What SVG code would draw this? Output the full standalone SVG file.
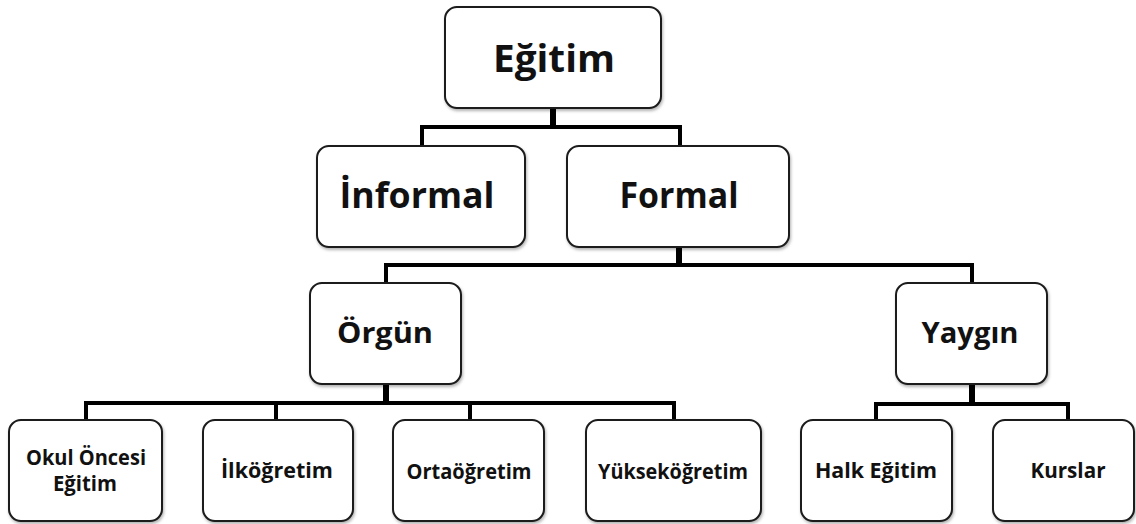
<svg xmlns="http://www.w3.org/2000/svg" width="1136" height="524" viewBox="0 0 1136 524">
  <defs>
    <filter id="shadow" x="-10%" y="-10%" width="120%" height="130%">
      <feDropShadow dx="1" dy="2" stdDeviation="1.5" flood-color="#000" flood-opacity="0.3"/>
    </filter>
    <style>
      .box { fill: #fff; stroke: #1a1a1a; stroke-width: 2; filter: url(#shadow); }
      .lbl { font-family: "Open Sans", "Liberation Sans", sans-serif; font-weight: bold; fill: #111; text-anchor: middle; }
      .l1 { font-size: 38px; }
      .l2 { font-size: 35px; }
      .l3 { font-size: 28px; }
      .l4 { font-size: 21px; }
      .wire { fill: none; stroke: #000; stroke-width: 4; stroke-linejoin: miter; }
      .stem { fill: none; stroke: #000; stroke-width: 6; }
    </style>
  </defs>
  <rect width="1136" height="524" fill="#fff"/>

  <!-- tree connectors -->
  <g id="connectors">
    <line class="stem" x1="553" y1="108" x2="553" y2="127"/>
    <polyline class="wire" points="422,146 422,127 680,127 680,146"/>
    <line class="stem" x1="679" y1="247" x2="679" y2="265"/>
    <polyline class="wire" points="386,283 386,265 972,265 972,283"/>
    <line class="stem" x1="386" y1="384" x2="386" y2="403"/>
    <polyline class="wire" points="86,420 86,403 674,403 674,420"/>
    <line class="wire" x1="276" y1="403" x2="276" y2="420"/>
    <line class="wire" x1="470" y1="403" x2="470" y2="420"/>
    <line class="stem" x1="972" y1="384" x2="972" y2="404"/>
    <polyline class="wire" points="876,420 876,404 1068,404 1068,420"/>
  </g>

  <g id="egitim">
    <rect class="box" x="445" y="7" width="216" height="101" rx="12"/>
    <text class="lbl l1" x="554" y="72" textLength="122" lengthAdjust="spacingAndGlyphs">Eğitim</text>
  </g>
  <g id="informal">
    <rect class="box" x="317" y="146" width="208" height="101" rx="12"/>
    <text class="lbl l2" x="417" y="208" textLength="155" lengthAdjust="spacingAndGlyphs">İnformal</text>
  </g>
  <g id="formal">
    <rect class="box" x="567" y="146" width="222" height="101" rx="12"/>
    <text class="lbl l2" x="679" y="208" textLength="119" lengthAdjust="spacingAndGlyphs">Formal</text>
  </g>
  <g id="orgun">
    <rect class="box" x="310" y="283" width="151" height="101" rx="12"/>
    <text class="lbl l3" x="385" y="343" textLength="96" lengthAdjust="spacingAndGlyphs">Örgün</text>
  </g>
  <g id="yaygin">
    <rect class="box" x="896" y="283" width="151" height="101" rx="12"/>
    <text class="lbl l3" x="970" y="343" textLength="97" lengthAdjust="spacingAndGlyphs">Yaygın</text>
  </g>
  <g id="okul-oncesi">
    <rect class="box" x="9" y="420" width="153" height="101" rx="12"/>
    <text class="lbl l4" x="86" y="465" textLength="120" lengthAdjust="spacingAndGlyphs">Okul Öncesi</text>
    <text class="lbl l4" x="85" y="491" textLength="64" lengthAdjust="spacingAndGlyphs">Eğitim</text>
  </g>
  <g id="ilkogretim">
    <rect class="box" x="203" y="420" width="150" height="101" rx="12"/>
    <text class="lbl l4" x="277" y="478" textLength="112" lengthAdjust="spacingAndGlyphs">İlköğretim</text>
  </g>
  <g id="ortaogretim">
    <rect class="box" x="393" y="420" width="151" height="101" rx="12"/>
    <text class="lbl l4" x="469" y="479" textLength="125" lengthAdjust="spacingAndGlyphs">Ortaöğretim</text>
  </g>
  <g id="yuksekogretim">
    <rect class="box" x="586" y="420" width="175" height="101" rx="12"/>
    <text class="lbl l4" x="673" y="479" textLength="150" lengthAdjust="spacingAndGlyphs">Yükseköğretim</text>
  </g>
  <g id="halk-egitim">
    <rect class="box" x="801" y="420" width="151" height="101" rx="12"/>
    <text class="lbl l4" x="876" y="478" textLength="122" lengthAdjust="spacingAndGlyphs">Halk Eğitim</text>
  </g>
  <g id="kurslar">
    <rect class="box" x="993" y="420" width="141" height="101" rx="12"/>
    <text class="lbl l4" x="1068" y="478" textLength="75" lengthAdjust="spacingAndGlyphs">Kurslar</text>
  </g>
</svg>
